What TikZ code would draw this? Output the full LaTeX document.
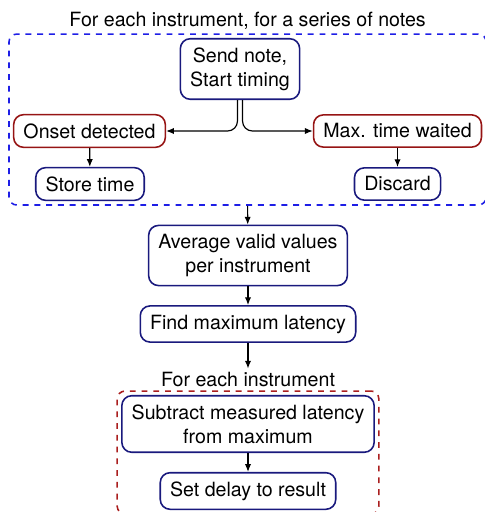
\documentclass[tikz,border=0pt]{standalone}
\usepackage{fontspec}
\setmainfont{TeX Gyre Heros}
\usetikzlibrary{arrows.meta,fit}
\definecolor{boxblue}{RGB}{25,25,125}
\definecolor{boxred}{RGB}{150,20,20}
\definecolor{loopblue}{RGB}{30,30,230}
\definecolor{loopred}{RGB}{170,30,30}

\begin{document}
\begin{tikzpicture}[x=0.51pt,y=0.51pt,yscale=-1,xscale=1,
    box/.style={draw=boxblue, line width=0.8pt, rounded corners=5pt, inner xsep=5pt, inner ysep=4.5pt, align=center, font=\fontsize{10}{12.2}\selectfont},
    event/.style={box, draw=boxred},
    loopbox/.style={draw, dashed, line width=0.8pt, rounded corners=4pt, inner sep=2pt},
    arr/.style={-{Latex[length=4pt,width=3.2pt]}, line width=0.6pt}]
    \useasboundingbox (0,0) rectangle (484,512);
        % Nodes inside the first loop
        \node [box] (send) at (240,69) {Send note,\\Start timing};
        \node [event] (onset) at (89.5,131) {Onset detected};
        \node [event] (maxwait) at (397.5,131) {Max. time waited};
        \node [box] (store) at (90,184) {Store time};
        \node [box] (discard) at (397.5,184) {Discard};
        % Loop frame
        \node [loopbox, draw=loopblue, fit=(send)(onset)(maxwait)(store)(discard),
            label={[name=looplabA, inner sep=1.6pt]above:For each instrument, for a series of notes}] (loopA) {};
        % Nodes after the loop
        \node [box] (average) at (248,255.5) {Average valid values\\per instrument};
        \node [box] (findmax) at (248,324) {Find maximum latency};
        % Nodes inside the second loop
        \node [box] (subtract) at (248,424) {Subtract measured latency\\from maximum};
        \node [box] (setdelay) at (248,491) {Set delay to result};
        \node [loopbox, draw=loopred, fit=(subtract)(setdelay),
            label={[name=looplabB, inner sep=1.6pt]above:For each instrument}] (loopB) {};

        % Connectors
        \draw [arr, rounded corners=5pt] ([xshift=-1.3pt]send.south) |- (onset);
        \draw [arr, rounded corners=5pt] ([xshift=1.3pt]send.south) |- (maxwait);
        \draw [arr] (onset) -- (store);
        \draw [arr] (maxwait) -- (discard);
        \draw [arr] (loopA.south) -- (average);
        \draw [arr] (average) -- (findmax);
        \draw [arr] (findmax) -- (looplabB);
        \draw [arr] (subtract) -- (setdelay);
\end{tikzpicture}
\end{document}
